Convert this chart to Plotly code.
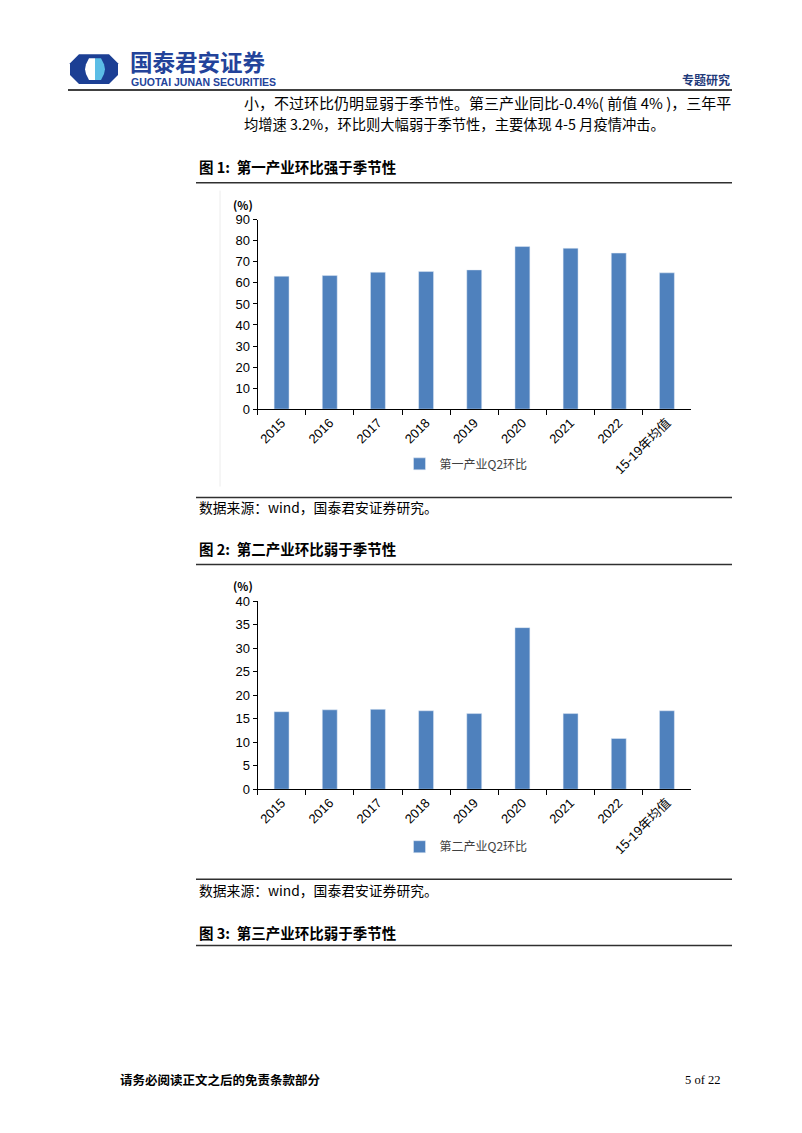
import plotly.graph_objects as go

W, H = 802, 1133

categories = ["2015", "2016", "2017", "2018", "2019", "2020", "2021", "2022", "15-19年均值"]
primary_q2 = [63.2, 63.5, 65.1, 65.4, 66.2, 77.3, 76.5, 74.2, 64.8]
secondary_q2 = [16.5, 16.9, 17.0, 16.7, 16.1, 34.4, 16.1, 10.8, 16.7]
name1 = "第一产业Q2环比"
name2 = "第二产业Q2环比"
y1_ticks = [0, 10, 20, 30, 40, 50, 60, 70, 80, 90]
y2_ticks = [0, 5, 10, 15, 20, 25, 30, 35, 40]

BAR = "#4F81BD"
CJK = "Noto Sans CJK SC"
LAT = "Liberation Sans, Arial, Noto Sans CJK SC"


def px(x):
    return x / W


def py(y):
    return 1 - y / H


fig = go.Figure()
fig.add_trace(go.Bar(x=categories, y=primary_q2, name=name1, marker_color=BAR,
                     xaxis="x", yaxis="y", legend="legend", showlegend=True))
fig.add_trace(go.Bar(x=categories, y=secondary_q2, name=name2, marker_color=BAR,
                     xaxis="x2", yaxis="y2", legend="legend2", showlegend=True))

x_dom = [px(257.5), px(691)]
axis_common = dict(showline=True, linecolor="#000000", linewidth=1, showgrid=False,
                   zeroline=False, ticks="outside", tickcolor="#000000",
                   tickfont=dict(family=LAT, size=13, color="#000000"))

legend_font = dict(family=CJK, size=12, color="#404040")

fig.update_layout(
    width=W, height=H, margin=dict(l=0, r=0, t=0, b=0),
    paper_bgcolor="white", plot_bgcolor="white",
    showlegend=True,
    bargap=0.69,
    xaxis=dict(domain=x_dom, anchor="y", type="category", tickson="boundaries",
               ticklen=5, tickangle=-45, **axis_common),
    yaxis=dict(domain=[py(407.5), py(215.7)], anchor="x", range=[0, 90],
               tickvals=y1_ticks, ticklen=4, **axis_common),
    xaxis2=dict(domain=x_dom, anchor="y2", type="category", tickson="boundaries",
                ticklen=5, tickangle=-45, **axis_common),
    yaxis2=dict(domain=[py(792.7), py(602.3)], anchor="x2", range=[0, 40],
                tickvals=y2_ticks, ticklen=4, **axis_common),
    legend=dict(x=px(466), y=py(463), xanchor="center", yanchor="middle",
                font=legend_font, itemwidth=30, bgcolor="rgba(0,0,0,0)",
                visible=True),
    legend2=dict(x=px(466), y=py(851), xanchor="center", yanchor="middle",
                 font=legend_font, itemwidth=30, bgcolor="rgba(0,0,0,0)",
                 visible=True),
)

shapes = []


def hline(y, x0, x1, w=1.5, color="#303030"):
    shapes.append(dict(type="line", xref="paper", yref="paper", x0=px(x0), x1=px(x1),
                       y0=py(y), y1=py(y), line=dict(color=color, width=w)))


hline(84, 68, 732, 2, "#404040")
hline(178, 196, 732)
hline(497, 196, 732)
hline(565, 196, 732)
hline(884, 196, 732)
hline(951, 196, 732)
# faint chart frame edge
shapes.append(dict(type="line", xref="paper", yref="paper", x0=px(220), x1=px(220),
                   y0=py(186), y1=py(486), line=dict(color="#ececec", width=1)))


def path(points):
    s = "M " + " L ".join(f"{px(x)},{py(y)}" for x, y in points) + " Z"
    return s


# logo: dark octagon, white lens, light-blue half
shapes.append(dict(type="path", xref="paper", yref="paper",
                   path=path([(79, 48), (109, 48), (118, 57), (118, 69), (109, 78),
                              (79, 78), (70, 69), (70, 57)]),
                   fillcolor="#1C3F94", line=dict(width=0)))
shapes.append(dict(type="path", xref="paper", yref="paper",
                   path=path([(89, 52), (95, 52), (95, 74), (89, 74), (86, 68),
                              (85, 63), (86, 58)]),
                   fillcolor="#FFFFFF", line=dict(width=0)))
shapes.append(dict(type="path", xref="paper", yref="paper",
                   path=path([(95, 52), (101, 52), (104, 58), (105, 63), (104, 68),
                              (101, 74), (95, 74)]),
                   fillcolor="#5BBDE6", line=dict(width=0)))
fig.update_layout(shapes=shapes)

ann = []


def text(x, y, s, size=12, family=CJK, color="#000000", xanchor="left", bold=False):
    if bold:
        s = f"<b>{s}</b>"
    ann.append(dict(x=px(x), y=py(y), xref="paper", yref="paper", text=s, showarrow=False,
                    xanchor=xanchor, yanchor="middle",
                    font=dict(family=family, size=size, color=color)))


text(128, 55, "国泰君安证券", size=22.5, color="#23439A", bold=True)
text(129, 76.5, "GUOTAI JUNAN SECURITIES", size=10.5, family="Liberation Sans, Arial",
     color="#23439A", bold=True)
text(732, 73, "专题研究", size=12, color="#1F3A7A", xanchor="right", bold=True)
text(242, 97, "小，不过环比仍明显弱于季节性。第三产业同比-0.4%( 前值 4% )，三年平", size=15)
text(242, 118, "均增速 3.2%，环比则大幅弱于季节性，主要体现 4-5 月疫情冲击。", size=14.3)
text(197, 162, "图 1:  第一产业环比强于季节性", size=14.5, bold=True)
text(197, 507, "数据来源：wind，国泰君安证券研究。", size=13.8)
text(197, 549, "图 2:  第二产业环比弱于季节性", size=14.5, bold=True)
text(197, 895, "数据来源：wind，国泰君安证券研究。", size=13.8)
text(197, 938, "图 3:  第三产业环比弱于季节性", size=14.5, bold=True)
text(243, 201, "(%)", size=11.5, xanchor="center", bold=True)
text(243, 587, "(%)", size=11.5, xanchor="center", bold=True)
text(118, 1087, "请务必阅读正文之后的免责条款部分", size=12.5, bold=True)
text(722, 1087, "5 of 22", size=12.5, family="Liberation Serif, Times New Roman",
     xanchor="right")
fig.update_layout(annotations=ann)

fig.write_html("out.html")
